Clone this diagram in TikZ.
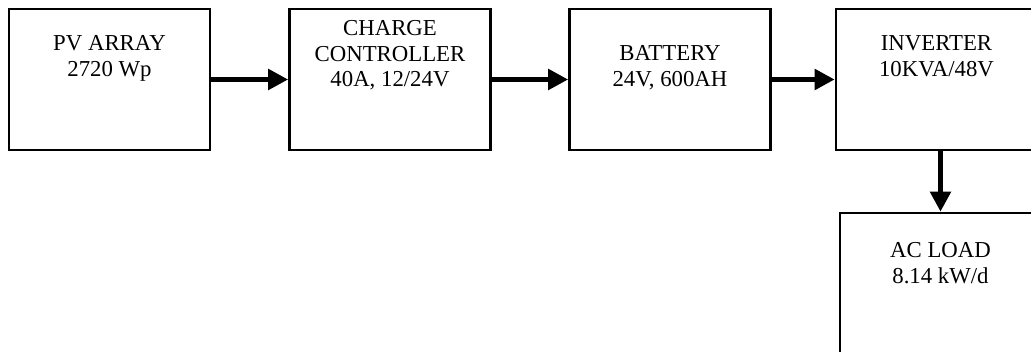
\documentclass[tikz,border=0pt]{standalone}
\usepackage{fontspec}
\setmainfont{Liberation Serif}
\usetikzlibrary{arrows.meta,positioning}

\begin{document}
\begin{tikzpicture}[
    x=1pt, y=1pt,
    block/.style={draw, line width=2.6pt, minimum width=201pt, minimum height=141pt,
                  inner sep=0pt},
    lbl/.style={align=center, inner sep=0pt, font=\fontsize{22.8}{25.5}\selectfont},
    arr/.style={-{Triangle[length=20pt, width=20pt]}, line width=5pt}
]
\useasboundingbox (0,0) rectangle (1031,351);

% Blocks
\node[block] (pv) at (109.5, 271.5) {};
\node[block] (charge) at (390, 271.5) {};
\node[block] (battery) at (670, 271.5) {};
\node[block] (inverter) at (936.5, 271.5) {};
\node[block] (acload) at (940.5, 67.5) {};

% Texts
\node[lbl, below=28pt of pv.north] (pvtxt) {PV ARRAY\\2720 Wp};
\node[lbl, below=13pt of charge.north] (chargetxt) {CHARGE\\CONTROLLER\\40A, 12/24V};
\node[lbl, below=38pt of battery.north] (batterytxt) {BATTERY\\24V, 600AH};
\node[lbl, below=28pt of inverter.north] (invertertxt) {INVERTER\\10KVA/48V};
\node[lbl, below=31pt of acload.north] (acloadtxt) {AC LOAD\\8.14 kW/d};

% Arrows
\draw[arr] (pv) -- (charge);
\draw[arr] (charge) -- (battery);
\draw[arr] (battery) -- (inverter);
\draw[arr] (acload.north |- inverter.south) -- (acload.north);

\end{tikzpicture}
\end{document}
